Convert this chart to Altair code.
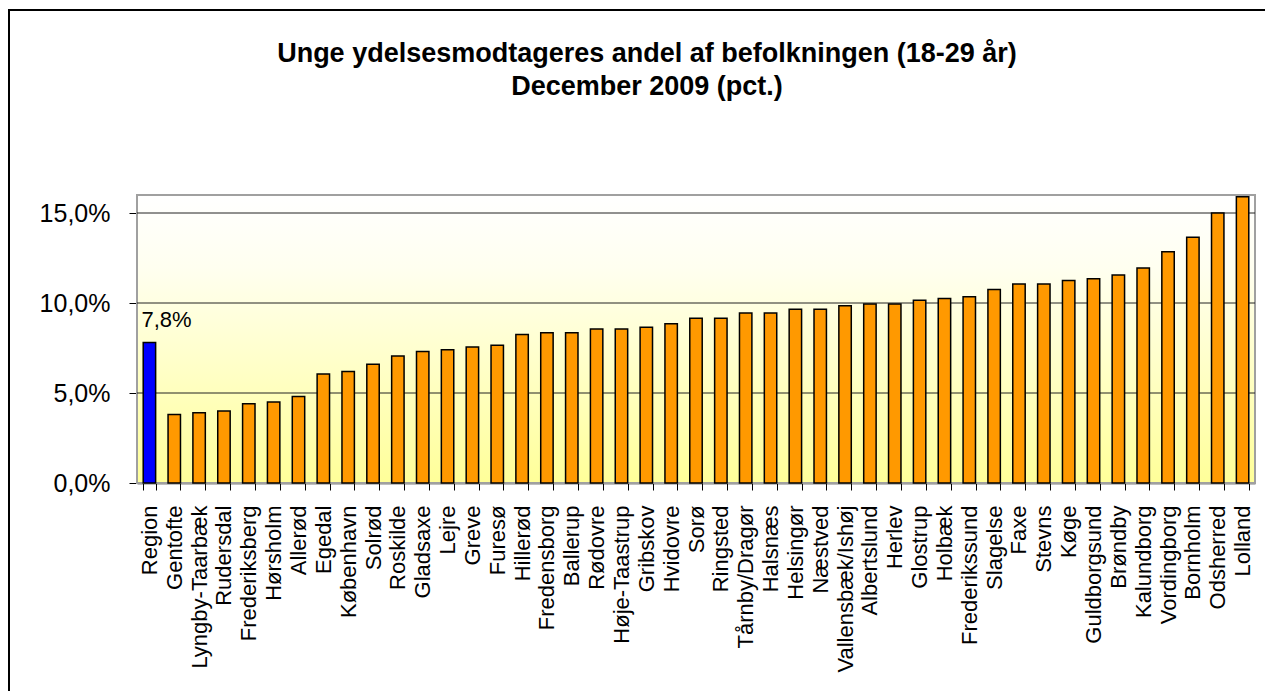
import altair as alt
import pandas as pd

names = ["Region", "Gentofte", "Lyngby-Taarbæk", "Rudersdal", "Frederiksberg", "Hørsholm",
         "Allerød", "Egedal", "København", "Solrød", "Roskilde", "Gladsaxe", "Lejre", "Greve",
         "Furesø", "Hillerød", "Fredensborg", "Ballerup", "Rødovre", "Høje-Taastrup", "Gribskov",
         "Hvidovre", "Sorø", "Ringsted", "Tårnby/Dragør", "Halsnæs", "Helsingør", "Næstved",
         "Vallensbæk/Ishøj", "Albertslund", "Herlev", "Glostrup", "Holbæk", "Frederikssund",
         "Slagelse", "Faxe", "Stevns", "Køge", "Guldborgsund", "Brøndby", "Kalundborg",
         "Vordingborg", "Bornholm", "Odsherred", "Lolland"]
values = [7.8, 3.8, 3.9, 4.0, 4.4, 4.5,
          4.8, 6.05, 6.2, 6.6, 7.05, 7.3, 7.4, 7.55,
          7.65, 8.25, 8.35, 8.35, 8.55, 8.55, 8.65,
          8.85, 9.15, 9.15, 9.45, 9.45, 9.65, 9.65,
          9.85, 9.95, 9.95, 10.15, 10.25, 10.35,
          10.75, 11.05, 11.05, 11.25, 11.35, 11.55, 11.95,
          12.85, 13.65, 15.0, 15.9]
kinds = ["Region"] + ["Kommune"] * (len(names) - 1)
grid_values = [5, 10, 15]
y_ticks = [0, 5, 10, 15]
title_line1 = "Unge ydelsesmodtageres andel af befolkningen (18-29 år)"
title_line2 = "December 2009 (pct.)"

df = pd.DataFrame({"navn": names, "andel": values, "type": kinds})

W, H = 1118, 288
FONT = "Liberation Sans"

x_enc = alt.X("navn:N", sort=names, title=None,
              scale=alt.Scale(paddingInner=0.5, paddingOuter=0.25))
y_enc = alt.Y("andel:Q", title=None, scale=alt.Scale(domain=[0, 16], nice=False),
              axis=alt.Axis(values=y_ticks,
                            labelExpr="replace(format(datum.value, '.1f'), '.', ',') + '%'"))

one = pd.DataFrame({"d": [0]})

bg = alt.Chart(one).mark_rect(
    fill=alt.LinearGradient(
        gradient="linear", x1=0, x2=0, y1=0, y2=1,
        stops=[alt.GradientStop(color="#FFFFFF", offset=0),
               alt.GradientStop(color="#FFFFF0", offset=0.25),
               alt.GradientStop(color="#FFFF99", offset=1)]),
    stroke="#A0A0A0", strokeWidth=2,
).encode(x=alt.value(0), x2=alt.value(W), y=alt.value(0), y2=alt.value(H))

grid = alt.Chart(pd.DataFrame({"andel": grid_values})).mark_rule(
    color="#222222", strokeWidth=1
).encode(y=y_enc)

bars = alt.Chart(df).mark_bar(stroke="black", strokeWidth=1.5).encode(
    x=x_enc, y=y_enc,
    color=alt.Color("type:N", scale=alt.Scale(domain=["Region", "Kommune"],
                                              range=["#0000FF", "#FF9900"]), legend=None),
)

label = alt.Chart(df).transform_filter("datum.type == 'Region'").transform_calculate(
    lbl="replace(format(datum.andel, '.1f'), '.', ',') + '%'"
).mark_text(align="left", baseline="bottom", dx=-8, dy=-11, fontSize=22, font=FONT,
            color="black").encode(x=x_enc, y=y_enc, text="lbl:N")

t1 = alt.Chart(pd.DataFrame({"t": [title_line1]})).mark_text(
    align="center", baseline="alphabetic", fontSize=27, fontWeight="bold", font=FONT,
    color="black").encode(x=alt.value(510), y=alt.value(-133), text="t:N")
t2 = alt.Chart(pd.DataFrame({"t": [title_line2]})).mark_text(
    align="center", baseline="alphabetic", fontSize=27, fontWeight="bold", font=FONT,
    color="black").encode(x=alt.value(510), y=alt.value(-100), text="t:N")

frame_top = alt.Chart(one).mark_rule(color="black", strokeWidth=2).encode(
    x=alt.value(-129), x2=alt.value(W + 10), y=alt.value(-185))
frame_left = alt.Chart(one).mark_rule(color="black", strokeWidth=2).encode(
    x=alt.value(-128), y=alt.value(-185), y2=alt.value(H + 208))

chart = alt.layer(bg, grid, bars, label, t1, t2, frame_top, frame_left).properties(
    width=W, height=H,
    autosize=alt.AutoSizeParams(type="none"),
    padding={"left": 129, "top": 187, "right": 10, "bottom": 208},
).configure_view(stroke=None).configure(background="white").configure_axis(
    grid=False, zindex=1, domainColor="black", domainWidth=1.5, tickColor="black",
    labelColor="black", labelFont=FONT,
).configure_axisX(
    labelAngle=-90, labelAlign="right", labelBaseline="middle", labelFontSize=22,
    labelPadding=15, tickSize=7, tickBand="extent", labelLimit=400,
).configure_axisY(
    labelFontSize=25, labelPadding=19, tickSize=8,
)

chart.save("out.html", embed_options={"renderer": "svg", "actions": False})
